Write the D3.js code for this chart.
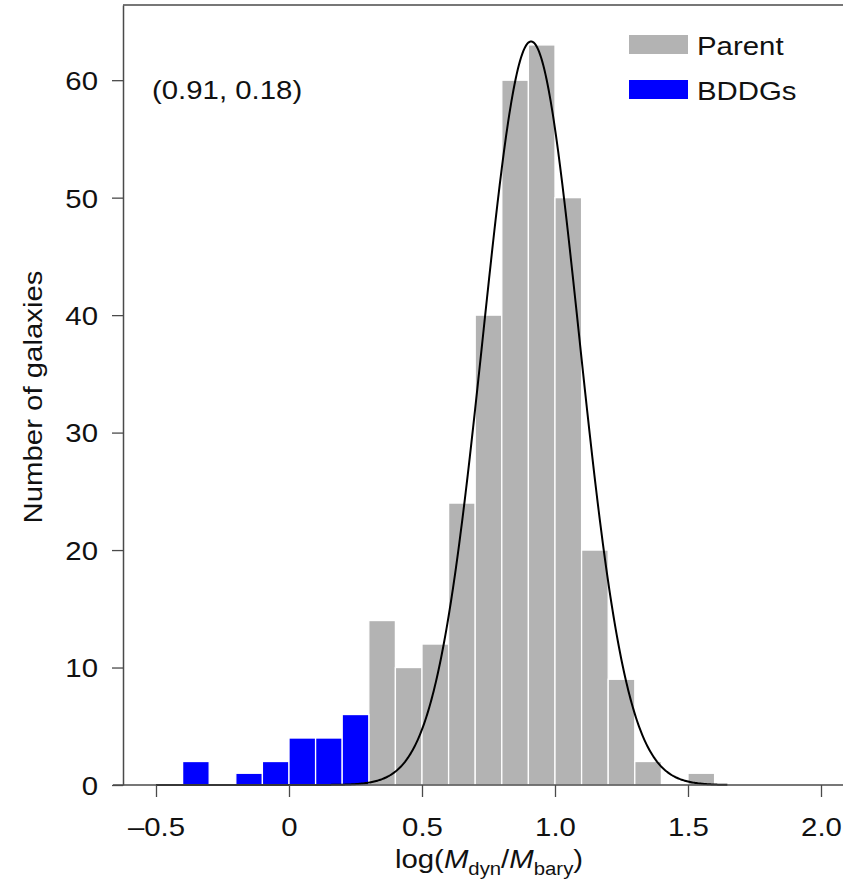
<!DOCTYPE html>
<html>
<head>
<meta charset="utf-8">
<title>Number of galaxies vs log(Mdyn/Mbary)</title>
<script src="https://d3js.org/d3.v7.min.js"></script>
<style>
body { margin: 0; background: #fff; }
svg { display: block; }
text { font-family: "Liberation Sans", Arial, Helvetica, sans-serif; fill: #111; }
</style>
</head>
<body>
<svg class="chart"></svg>
<script>

// ---- data ----
var binWidth = 0.1;
var parentBinStart = [0.3, 0.4, 0.5, 0.6, 0.7, 0.8, 0.9, 1.0, 1.1, 1.2, 1.3, 1.4, 1.5];
var parentCounts   = [14, 10, 12, 24, 40, 60, 63, 50, 20, 9, 2, 0, 1];
var bddgBinStart   = [-0.4, -0.3, -0.2, -0.1, 0.0, 0.1, 0.2];
var bddgCounts     = [2, 0, 1, 2, 4, 4, 6];

// fitted gaussian (mean, sigma shown in the plot)
var gaussMean = 0.91;
var gaussSigma = 0.18;
var gaussPeak = 63.3;
var gaussRange = [-0.5, 1.65];

var xTicks = [-0.5, 0, 0.5, 1.0, 1.5, 2.0];
var xTickLabels = ["\u20130.5", "0", "0.5", "1.0", "1.5", "2.0"];
var yTicks = [0, 10, 20, 30, 40, 50, 60];
var seriesNames = ["Parent", "BDDGs"];
var fitLabel = "(0.91, 0.18)";

// ---- set up chart ----
var W = 843, H = 896;
var stretch = "scale(1.13,1)";   // figure text is a bit wide

var svg = d3.select(".chart").attr("width", W).attr("height", H);

var x = d3.scaleLinear().domain([-0.5, 2.0]).range([156, 821]);
var y = d3.scaleLinear().domain([0, 66.4]).range([785, 5]);

var grey = "#b3b3b3", blue = "#0000ff", axisCol = "#4a4a4a";

function barData(starts, counts) {
	return starts.map(function(s, i){ return {x0: s, n: counts[i]}; })
		.filter(function(d){ return d.n > 0; });
}

// bars
svg.append("g").selectAll("rect")
	.data(barData(parentBinStart, parentCounts))
	.enter().append("rect")
	.attr("x", function(d){ return x(d.x0); })
	.attr("y", function(d){ return y(d.n); })
	.attr("width", function(d){ return x(d.x0 + binWidth) - x(d.x0); })
	.attr("height", function(d){ return y(0) - y(d.n); })
	.attr("fill", grey)
	.attr("stroke", "#fff")
	.attr("stroke-width", 1.3);

svg.append("g").selectAll("rect")
	.data(barData(bddgBinStart, bddgCounts))
	.enter().append("rect")
	.attr("x", function(d){ return x(d.x0); })
	.attr("y", function(d){ return y(d.n); })
	.attr("width", function(d){ return x(d.x0 + binWidth) - x(d.x0); })
	.attr("height", function(d){ return y(0) - y(d.n); })
	.attr("fill", blue)
	.attr("stroke", "#fff")
	.attr("stroke-width", 1.3);

// gaussian curve
var curvePts = d3.range(gaussRange[0], gaussRange[1] + 1e-9, 0.004).map(function(v){
	var z = (v - gaussMean) / gaussSigma;
	return [v, gaussPeak * Math.exp(-0.5 * z * z)];
});
svg.append("path")
	.datum(curvePts)
	.attr("fill", "none")
	.attr("stroke", "#000")
	.attr("stroke-width", 2)
	.attr("d", d3.line().x(function(d){ return x(d[0]); }).y(function(d){ return y(d[1]); }));

// frame: top line + bottom axis line
svg.append("line").attr("x1", 123).attr("x2", W).attr("y1", 5).attr("y2", 5)
	.attr("stroke", axisCol).attr("stroke-width", 1.5);
svg.append("line").attr("x1", 113).attr("x2", W).attr("y1", y(0)).attr("y2", y(0))
	.attr("stroke", axisCol).attr("stroke-width", 1.5);

// left axis
var yAxis = svg.append("g")
	.attr("transform", "translate(123,0)")
	.call(d3.axisLeft(y).tickValues(yTicks).tickSize(11).tickSizeOuter(0));
yAxis.select(".domain").attr("stroke", axisCol).attr("stroke-width", 1.5);
yAxis.selectAll(".tick line").attr("stroke", axisCol).attr("stroke-width", 1.3);
yAxis.selectAll(".tick text")
	.attr("x", 0).attr("dy", "0.36em")
	.attr("transform", "translate(-25,0) " + stretch)
	.style("font-size", "26px").style("font-family", null).attr("fill", "#111");

// bottom axis
var xAxis = svg.append("g")
	.attr("transform", "translate(0," + y(0) + ")")
	.call(d3.axisBottom(x).tickValues(xTicks).tickSize(12).tickSizeOuter(0)
		.tickFormat(function(d, i){ return xTickLabels[i]; }));
xAxis.select(".domain").remove();
xAxis.selectAll(".tick line").attr("stroke", axisCol).attr("stroke-width", 1.3);
xAxis.selectAll(".tick text")
	.attr("y", 0).attr("dy", 0)
	.attr("transform", "translate(0,51) " + stretch)
	.style("font-size", "26px").style("font-family", null).attr("fill", "#111");

// axis titles
svg.append("text")
	.attr("transform", "translate(42,397) rotate(-90) " + stretch)
	.attr("text-anchor", "middle")
	.style("font-size", "26px")
	.text("Number of galaxies");

var xt = svg.append("text")
	.attr("transform", "translate(489,868) " + stretch)
	.attr("text-anchor", "middle")
	.style("font-size", "26px");
xt.append("tspan").text("log(");
xt.append("tspan").style("font-style", "italic").text("M");
xt.append("tspan").attr("dy", 7).style("font-size", "18px").text("dyn");
xt.append("tspan").attr("dy", -7).text("/");
xt.append("tspan").style("font-style", "italic").text("M");
xt.append("tspan").attr("dy", 7).style("font-size", "18px").text("bary");
xt.append("tspan").attr("dy", -7).text(")");

// fit annotation
svg.append("text")
	.attr("transform", "translate(152,99) " + stretch)
	.style("font-size", "26px")
	.text(fitLabel);

// legend
var legend = svg.append("g").selectAll("g")
	.data(seriesNames)
	.enter().append("g")
	.attr("transform", function(d, i){ return "translate(629," + (35 + i * 45) + ")"; });
legend.append("rect")
	.attr("width", 59).attr("height", 19)
	.attr("fill", function(d, i){ return i === 0 ? grey : blue; });
legend.append("text")
	.attr("transform", "translate(68,20) " + stretch)
	.style("font-size", "26px")
	.text(function(d){ return d; });

</script>
</body>
</html>
